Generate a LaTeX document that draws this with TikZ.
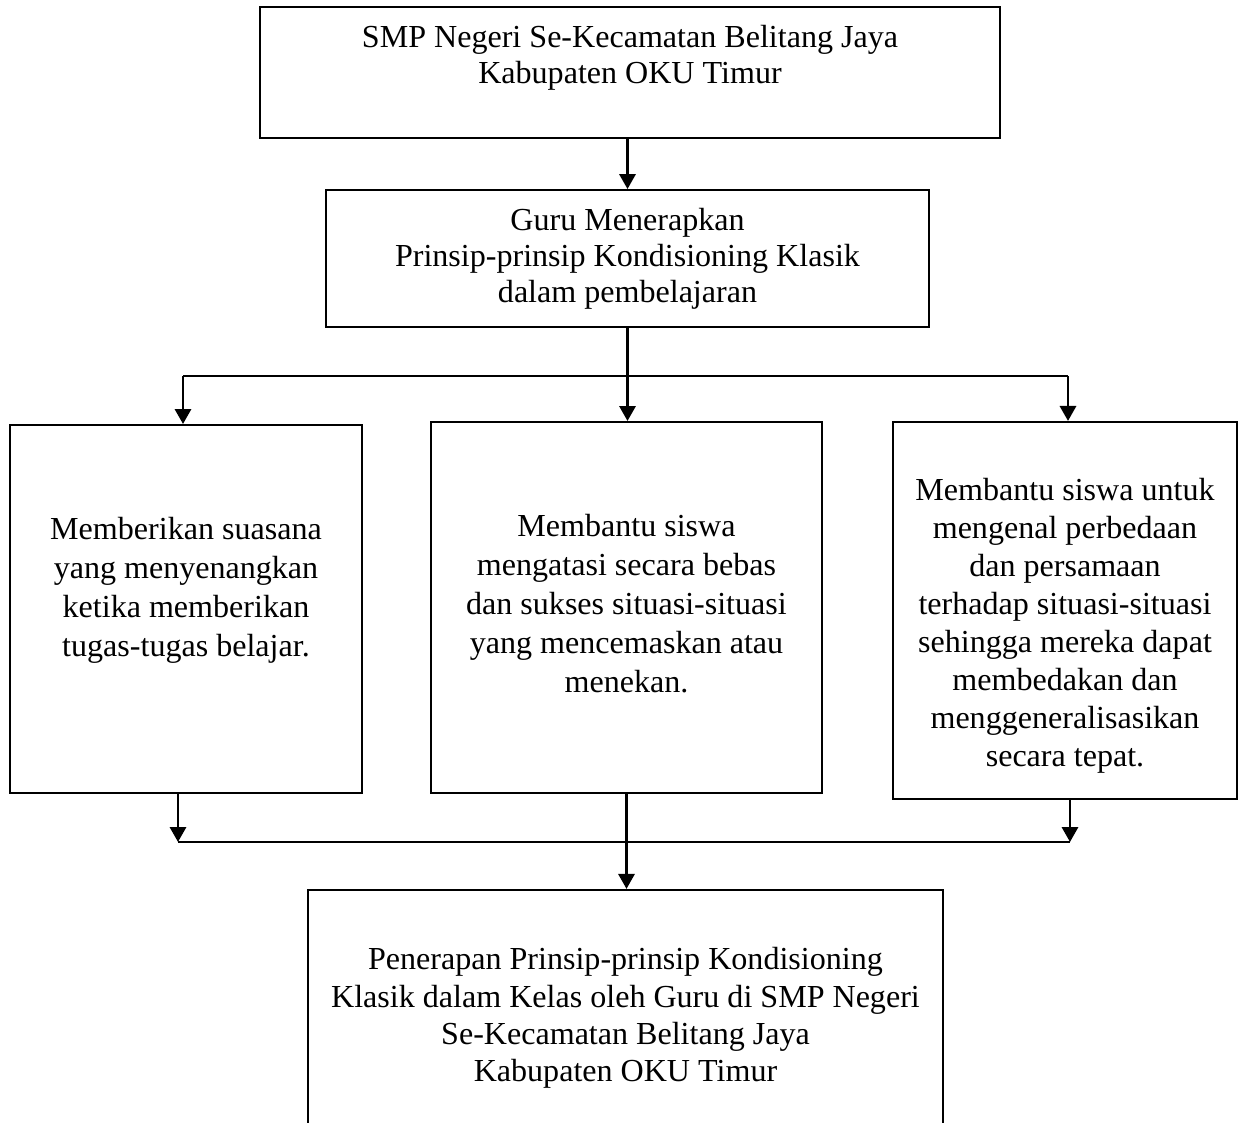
\documentclass[tikz,border=0pt]{standalone}
\usepackage{fontspec}
\setmainfont{Liberation Serif}
\usetikzlibrary{arrows.meta}

\begin{document}
\begin{tikzpicture}[
            x = 0.01316cm, y = -0.01316cm,
            box/.style = {draw, line width = 0.75pt, align = center, inner sep = 0mm},
            tight/.style = {font = \fontsize{12}{13.5}\selectfont},
            loose/.style = {font = \fontsize{12}{14.6}\selectfont},
            arr/.style = {draw, line width = 1.1pt, -{Triangle[width = 6pt, length = 5.6pt]}},
            bus/.style = {draw, line width = 0.75pt},
        ]
        \useasboundingbox (0,0) rectangle (1246,1122);

        \node (SMP) [box, tight, minimum width = 9.74cm, minimum height = 1.72cm] at (630, 72.5)
            {SMP Negeri Se-Kecamatan Belitang Jaya\\Kabupaten OKU Timur\\[0.1pt]\mbox{}};
        \node (GURU) [box, tight, minimum width = 7.94cm, minimum height = 1.80cm] at (627.5, 258.5)
            {Guru Menerapkan\\Prinsip-prinsip Kondisioning Klasik\\dalam pembelajaran};

        \node (SUASANA) [box, loose, minimum width = 4.63cm, minimum height = 4.84cm] at (186, 609)
            {Memberikan suasana\\yang menyenangkan\\ketika memberikan\\tugas-tugas belajar.\\[2pt]\mbox{}};
        \node (CEMAS) [box, loose, minimum width = 5.15cm, minimum height = 4.88cm] at (626.5, 607.5)
            {Membantu siswa\\mengatasi secara bebas\\dan sukses situasi-situasi\\yang mencemaskan atau\\menekan.\\[-11.6pt]\mbox{}};
        \node (BEDA) [box, font = \fontsize{12}{14.2}\selectfont, minimum width = 4.53cm, minimum height = 4.96cm] at (1065, 610.5)
            {\mbox{}\\[5.6pt]Membantu siswa untuk\\mengenal perbedaan\\dan persamaan\\terhadap situasi-situasi\\sehingga mereka dapat\\membedakan dan\\menggeneralisasikan\\secara tepat.};

        \node (HASIL) [box, font = \fontsize{12}{14}\selectfont, minimum width = 8.36cm, minimum height = 3.37cm] at (625.5, 1018)
            {Penerapan Prinsip-prinsip Kondisioning\\Klasik dalam Kelas oleh Guru di SMP Negeri\\Se-Kecamatan Belitang Jaya\\Kabupaten OKU Timur};

        \coordinate (SL) at (183, 376);
        \coordinate (SR) at (1068, 376);
        \coordinate (JL) at (178, 842);
        \coordinate (JR) at (1070, 842);

        \path[arr] (GURU.north |- SMP.south) -- (GURU.north);
        \path[arr] (GURU.south) -- (GURU.south |- CEMAS.north);

        \path[bus] (SL) -- (SR);
        \path[arr] (SL) -- (SL |- SUASANA.north);
        \path[arr] (SR) -- (SR |- BEDA.north);

        \path[arr] (JL |- SUASANA.south) -- (JL);
        \path[arr] (JR |- BEDA.south) -- (JR);
        \path[bus] (JL) -- (JR);
        \path[arr] (CEMAS.south) -- (CEMAS.south |- HASIL.north);
    \end{tikzpicture}
\end{document}
